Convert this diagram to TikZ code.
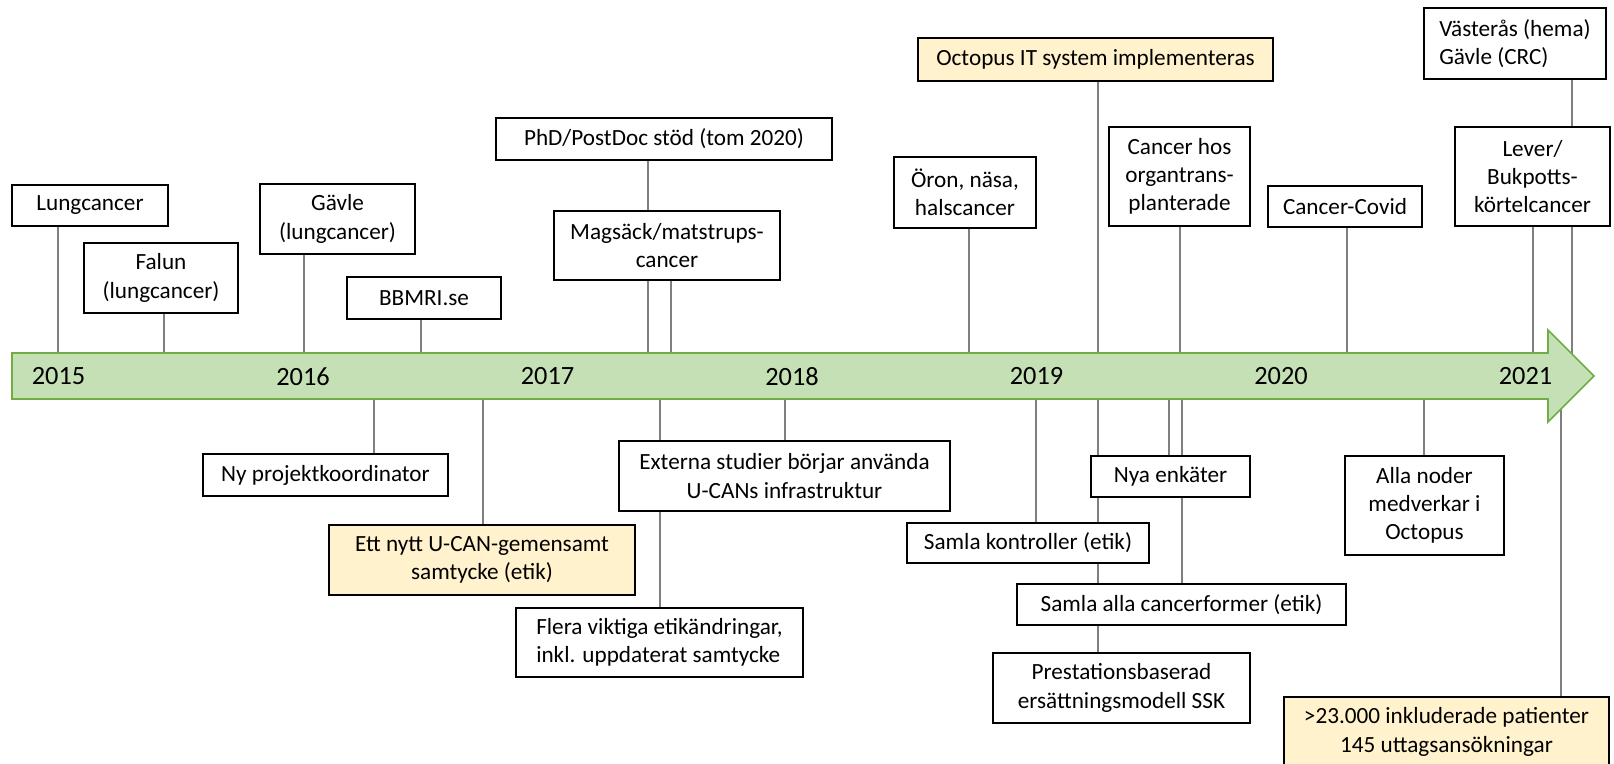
\documentclass[tikz,border=0pt]{standalone}
\usepackage{fontspec}
\setmainfont{Carlito}
\usepackage{xcolor}
\usepackage{tikz}

\definecolor{barfill}{HTML}{C5E0B4}
\definecolor{barline}{HTML}{70AD47}
\definecolor{notefill}{HTML}{FFF2CC}
\definecolor{stemgray}{HTML}{7F7F7F}

\pgfdeclarelayer{stems}
\pgfdeclarelayer{bar}
\pgfsetlayers{stems,bar,main}

\begin{document}
\begin{tikzpicture}[
  x=0.02cm, y=-0.02cm,
  event/.style={rectangle, draw, line width=0.8pt, fill=white, inner sep=2pt, align=center, font=\fontsize{13.2}{16.1}\selectfont},
  note/.style={event, fill=notefill},
  wh/.style 2 args={minimum width=#1cm, minimum height=#2cm},
  stem/.style={draw=stemgray, line width=0.6pt},
  year/.style={font=\fontsize{15}{18}\selectfont, inner sep=0pt}
]

\path[use as bounding box] (0,0) rectangle (1614,764);

% Timeline
\begin{pgfonlayer}{bar}
\draw[barline, fill=barfill, line width=0.9pt] (12,353) -- (1548,353) -- (1548,330) -- (1594,376) -- (1548,422) -- (1548,399) -- (12,399) -- cycle;
\end{pgfonlayer}

\node[year] (y2015) at (58.5,376.5) {2015};
\node[year] (y2016) at (303,376.5) {2016};
\node[year] (y2017) at (547.5,376.5) {2017};
\node[year] (y2018) at (792,376.5) {2018};
\node[year] (y2019) at (1036.5,376.5) {2019};
\node[year] (y2020) at (1281,376.5) {2020};
\node[year] (y2021) at (1525.5,376.5) {2021};

% Events above
\node[event, wh={3.12}{0.82}] (lung) at (90,205.5) {Lungcancer};
\node[event, wh={3.08}{1.40}] (falun) at (161,278) {Falun\\(lungcancer)};
\node[event, wh={3.10}{1.40}] (gavle) at (337.5,219) {Gävle\\(lungcancer)};
\node[event, wh={3.08}{0.84}] (bbmri) at (424,298) {BBMRI.se};
\node[event, wh={6.72}{0.84}] (phd) at (664,139) {PhD/PostDoc stöd (tom 2020)};
\node[event, wh={4.52}{1.38}] (mag) at (667,245.5) {Magsäck/matstrups-\\cancer};
\node[event, wh={2.84}{1.42}] (oron) at (965,192.5) {Öron, näsa,\\halscancer};
\node[note, wh={7.10}{0.86}] (octo) at (1095.5,59.5) {Octopus IT system implementeras};
\node[event, wh={2.82}{1.98}] (canhos) at (1179.5,176.5) {Cancer hos\\organtrans-\\planterade};
\node[event, wh={3.08}{0.82}] (covid) at (1345,206.5) {Cancer-Covid};
\node[event, wh={3.64}{1.42}, align=left] (vast) at (1515,43.5) {Västerås (hema)\\Gävle (CRC)};
\node[event, wh={3.10}{1.98}] (lever) at (1532.5,176.5) {Lever/\\Bukpotts-\\körtelcancer};

% Events below
\node[event, wh={4.90}{0.84}] (nyproj) at (325.5,475) {Ny projektkoordinator};
\node[note, wh={6.12}{1.40}] (ettnytt) at (482,560) {Ett nytt U-CAN-gemensamt\\samtycke (etik)};
\node[event, wh={6.62}{1.40}] (externa) at (784.5,476) {Externa studier börjar använda\\U-CANs infrastruktur};
\node[event, wh={5.74}{1.38}, align=left] (flera) at (659.5,642.5) {Flera viktiga etikändringar,\\inkl. uppdaterat samtycke};
\node[event, wh={4.84}{0.80}] (samkon) at (1028,543) {Samla kontroller (etik)};
\node[event, wh={3.18}{0.82}] (nya) at (1170.5,476.5) {Nya enkäter};
\node[event, wh={6.58}{0.82}] (samalla) at (1181.5,604.5) {Samla alla cancerformer (etik)};
\node[event, wh={5.14}{1.40}] (prest) at (1121.5,688) {Prestationsbaserad\\ersättningsmodell SSK};
\node[event, wh={3.18}{1.98}] (alla) at (1424.5,505.5) {Alla noder\\medverkar i\\Octopus};
\node[note, wh={6.50}{1.40}] (pat) at (1446.5,732) {>23.000 inkluderade patienter\\145 uttagsansökningar};

% Stems
\begin{pgfonlayer}{stems}
\coordinate (lung-t) at (58,376);
\coordinate (falun-t) at (164,376);
\coordinate (gavle-t) at (304,376);
\coordinate (bbmri-t) at (421,376);
\coordinate (phd-t) at (648,376);
\coordinate (mag-t) at (671,376);
\coordinate (oron-t) at (969,376);
\coordinate (octo-t) at (1098,376);
\coordinate (canhos-t) at (1180,376);
\coordinate (covid-t) at (1347,376);
\coordinate (vast-t) at (1572,376);
\coordinate (lever-t) at (1533,376);
\coordinate (nyproj-t) at (374,376);
\coordinate (ettnytt-t) at (483,376);
\coordinate (externa-t) at (785,376);
\coordinate (flera-t) at (660,376);
\coordinate (samkon-t) at (1036,376);
\coordinate (nya-t) at (1169,376);
\coordinate (samalla-t) at (1182,376);
\coordinate (alla-t) at (1424,376);
\coordinate (pat-t) at (1561,376);

\draw[stem] (lung.south -| lung-t) -- (lung-t);
\draw[stem] (falun.south -| falun-t) -- (falun-t);
\draw[stem] (gavle.south -| gavle-t) -- (gavle-t);
\draw[stem] (bbmri.south -| bbmri-t) -- (bbmri-t);
\draw[stem] (phd.south -| phd-t) -- (phd-t);
\draw[stem] (mag.south -| mag-t) -- (mag-t);
\draw[stem] (oron.south -| oron-t) -- (oron-t);
\draw[stem] (octo.south -| octo-t) -- (prest.north -| octo-t);
\draw[stem] (canhos.south -| canhos-t) -- (canhos-t);
\draw[stem] (covid.south -| covid-t) -- (covid-t);
\draw[stem] (vast.south -| vast-t) -- (vast-t);
\draw[stem] (lever.south -| lever-t) -- (lever-t);
\draw[stem] (nyproj-t) -- (nyproj.north -| nyproj-t);
\draw[stem] (ettnytt-t) -- (ettnytt.north -| ettnytt-t);
\draw[stem] (externa-t) -- (externa.north -| externa-t);
\draw[stem] (flera-t) -- (flera.north -| flera-t);
\draw[stem] (samkon-t) -- (samkon.north -| samkon-t);
\draw[stem] (nya-t) -- (nya.north -| nya-t);
\draw[stem] (samalla-t) -- (samalla.north -| samalla-t);
\draw[stem] (alla-t) -- (alla.north -| alla-t);
\draw[stem] (pat-t) -- (pat.north -| pat-t);
\end{pgfonlayer}

\end{tikzpicture}
\end{document}
